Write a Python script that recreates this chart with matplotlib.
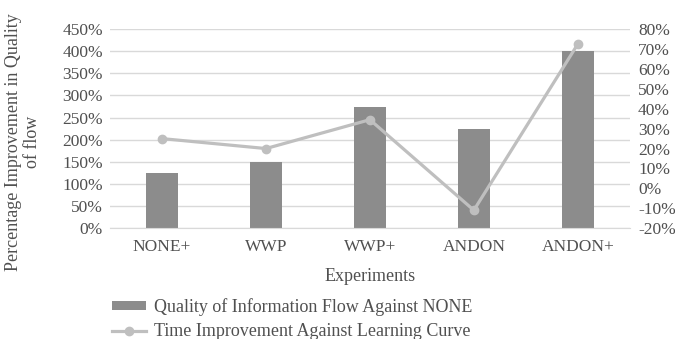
import matplotlib.pyplot as plt
from matplotlib.ticker import FuncFormatter

plt.rcParams['font.family'] = ['Liberation Serif', 'DejaVu Serif']

experiments = ["NONE+", "WWP", "WWP+", "ANDON", "ANDON+"]
quality_gain = [125, 150, 275, 225, 400]       # % vs NONE
time_gain = [25, 20, 34.5, -11, 72.5]           # % vs learning curve

bar_color = '#8c8c8c'
line_color = '#bfbfbf'
text_color = '#505050'

fig = plt.figure(figsize=(6.75, 3.39), dpi=100)
ax = fig.add_axes([0.163, 0.327, 0.770, 0.587])
ax2 = ax.twinx()

x = range(len(experiments))
bars = ax.bar(x, quality_gain, width=0.31, color=bar_color, zorder=2,
              label="Quality of Information Flow Against NONE")
line, = ax2.plot(x, time_gain, color=line_color, lw=2.3, marker='o', ms=6,
                 label="Time Improvement Against Learning Curve")

ax.set_ylim(0, 450)
ax.set_yticks(range(0, 451, 50))
ax2.set_ylim(-20, 80)
ax2.set_yticks(range(-20, 81, 10))
pct = FuncFormatter(lambda v, _: f"{v:.0f}%")
ax.yaxis.set_major_formatter(pct)
ax2.yaxis.set_major_formatter(pct)
ax.set_xlim(-0.5, len(experiments) - 0.5)
ax.set_xticks(list(x))
ax.set_xticklabels(experiments)

ax.grid(axis='y', color='#d9d9d9', lw=1, zorder=0)
ax.set_axisbelow(True)
for a in (ax, ax2):
    for s in a.spines.values():
        s.set_visible(False)
    a.tick_params(length=0, labelsize=12.5, colors=text_color)
ax.tick_params(axis='y', pad=5)
ax.tick_params(axis='x', pad=8)
ax2.tick_params(axis='y', pad=6)
ax.spines['bottom'].set_visible(True)
ax.spines['bottom'].set_color('#d9d9d9')

ax.set_xlabel("Experiments", fontsize=13, color=text_color, labelpad=9)
fig.text(0.034, 0.581, "Percentage Improvement in Quality\nof flow", rotation=90,
         ha='center', va='center', fontsize=13, color=text_color,
         multialignment='center', linespacing=1.1)

fig.legend(handles=[bars, line], loc='upper left', bbox_to_anchor=(0.166, 0.12),
           frameon=False, fontsize=13, labelcolor=text_color,
           handlelength=1.9, handleheight=0.4, handletextpad=0.45,
           borderpad=0, borderaxespad=0, labelspacing=0.4)

fig.savefig("out.png", dpi=100)
